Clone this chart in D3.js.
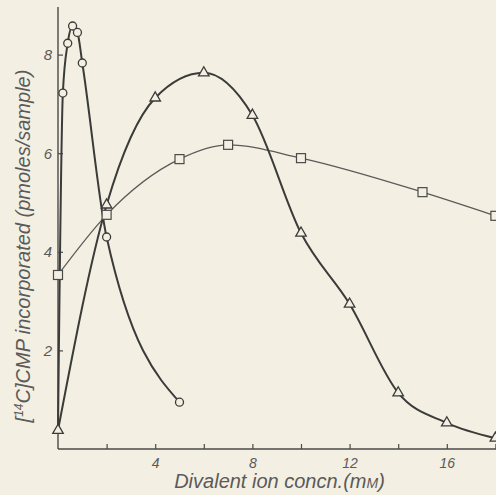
<!DOCTYPE html>
<html>
<head>
<meta charset="utf-8">
<script src="https://cdn.jsdelivr.net/npm/d3@7"></script>
<style>
  html, body { margin: 0; padding: 0; background: #f3efe3; }
  svg { display: block; }
  text { font-family: "Liberation Sans", Arial, sans-serif; font-style: italic; fill: #5a5a58; }
</style>
</head>
<body>
<svg id="chart" width="496" height="495"></svg>
<script>
// Divalent ion concentration (mM) and incorporation (pmoles/sample)
const circleConc = [0, 0.2, 0.4, 0.6, 0.8, 1, 2, 5];
const circleVals = [0.38, 7.22, 8.23, 8.58, 8.45, 7.83, 4.3, 0.95];

const triangleConc = [0, 2, 4, 6, 8, 10, 12, 14, 16, 18];
const triangleVals = [0.38, 4.95, 7.12, 7.63, 6.77, 4.38, 2.94, 1.14, 0.53, 0.22];

const squareConc = [0, 2, 5, 7, 10, 15, 18];
const squareVals = [3.53, 4.75, 5.88, 6.17, 5.9, 5.21, 4.73];

const xTicks = [2, 4, 6, 8, 10, 12, 14, 16, 18];
const xTickLabels = ["", "4", "", "8", "", "12", "", "16", ""];
const yTicks = [2, 4, 6, 8];
const yTickLabels = ["2", "4", "6", "8"];

const svg = d3.select("#chart");
const ink = "#3b3b3a";

const x = d3.scaleLinear().domain([0, 18]).range([58, 495.4]);
const y = d3.scaleLinear().domain([0, 8]).range([449, 54.6]);

// Axes: ticks point inward, labels only on selected ticks
const xAxis = d3.axisBottom(x).tickValues(xTicks).tickSize(-5).tickPadding(9)
  .tickFormat((d, i) => xTickLabels[i]);
const gx = svg.append("g").attr("transform", `translate(0,${y(0)})`).call(xAxis);
gx.select(".domain").attr("d", `M${x(0)},0H496`);

const yAxis = d3.axisLeft(y).tickValues(yTicks).tickSize(-5).tickPadding(6)
  .tickFormat((d, i) => yTickLabels[i]);
const gy = svg.append("g").attr("transform", `translate(${x(0)},0)`).call(yAxis);
gy.select(".domain").attr("d", `M0,${y(0)}V7`);

[gx, gy].forEach(g => {
  g.selectAll(".domain").attr("stroke", "#4a4a48").attr("stroke-width", 1.4);
  g.selectAll(".tick line").attr("stroke", "#4a4a48").attr("stroke-width", 1.2);
  g.selectAll(".tick text").attr("font-size", 15).attr("fill", "#5a5a58")
    .style("font-family", "'Liberation Sans', Arial, sans-serif").style("font-style", "italic");
});
gx.selectAll(".tick text").attr("font-size", 14);

// Curves
const line = d3.line().x(d => x(d[0])).y(d => y(d[1])).curve(d3.curveMonotoneX);
const zip = (a, b) => a.map((v, i) => [v, b[i]]);
const squares = zip(squareConc, squareVals);
const triangles = zip(triangleConc, triangleVals);
const circles = zip(circleConc, circleVals);

svg.append("path").attr("d", line(squares)).attr("fill", "none")
  .attr("stroke", "#5a5a58").attr("stroke-width", 1.3);
svg.append("path").attr("d", line(triangles)).attr("fill", "none")
  .attr("stroke", ink).attr("stroke-width", 2);
svg.append("path").attr("d", line(circles)).attr("fill", "none")
  .attr("stroke", ink).attr("stroke-width", 2);

// Markers
const bg = "#f3efe3";
svg.append("g").selectAll("rect").data(squares).join("rect")
  .attr("x", d => x(d[0]) - 4.5).attr("y", d => y(d[1]) - 4.5)
  .attr("width", 9).attr("height", 9)
  .attr("fill", bg).attr("stroke", "#4a4a48").attr("stroke-width", 1.2);

svg.append("g").selectAll("circle").data(circles.slice(1)).join("circle")
  .attr("cx", d => x(d[0])).attr("cy", d => y(d[1])).attr("r", 4)
  .attr("fill", bg).attr("stroke", ink).attr("stroke-width", 1.3);

const tri = d3.symbol().type(d3.symbolTriangle).size(48);
svg.append("g").selectAll("path").data(triangles).join("path")
  .attr("d", tri)
  .attr("transform", d => `translate(${x(d[0])},${y(d[1])})`)
  .attr("fill", bg).attr("stroke", ink).attr("stroke-width", 1.3);

// Axis titles
const xt = svg.append("text").attr("x", 279.5).attr("y", 487.5)
  .attr("text-anchor", "middle").attr("font-size", 20);
xt.append("tspan").text("Divalent ion concn.(m");
xt.append("tspan").attr("font-size", 14).text("M");
xt.append("tspan").text(")");

const yt = svg.append("text")
  .attr("transform", "translate(30,246) rotate(-90)")
  .attr("text-anchor", "middle").attr("font-size", 20);
yt.append("tspan").text("[");
yt.append("tspan").attr("font-size", 12).attr("dy", -7).text("14");
yt.append("tspan").attr("dy", 7).text("C]CMP incorporated (pmoles/sample)");
</script>
</body>
</html>
